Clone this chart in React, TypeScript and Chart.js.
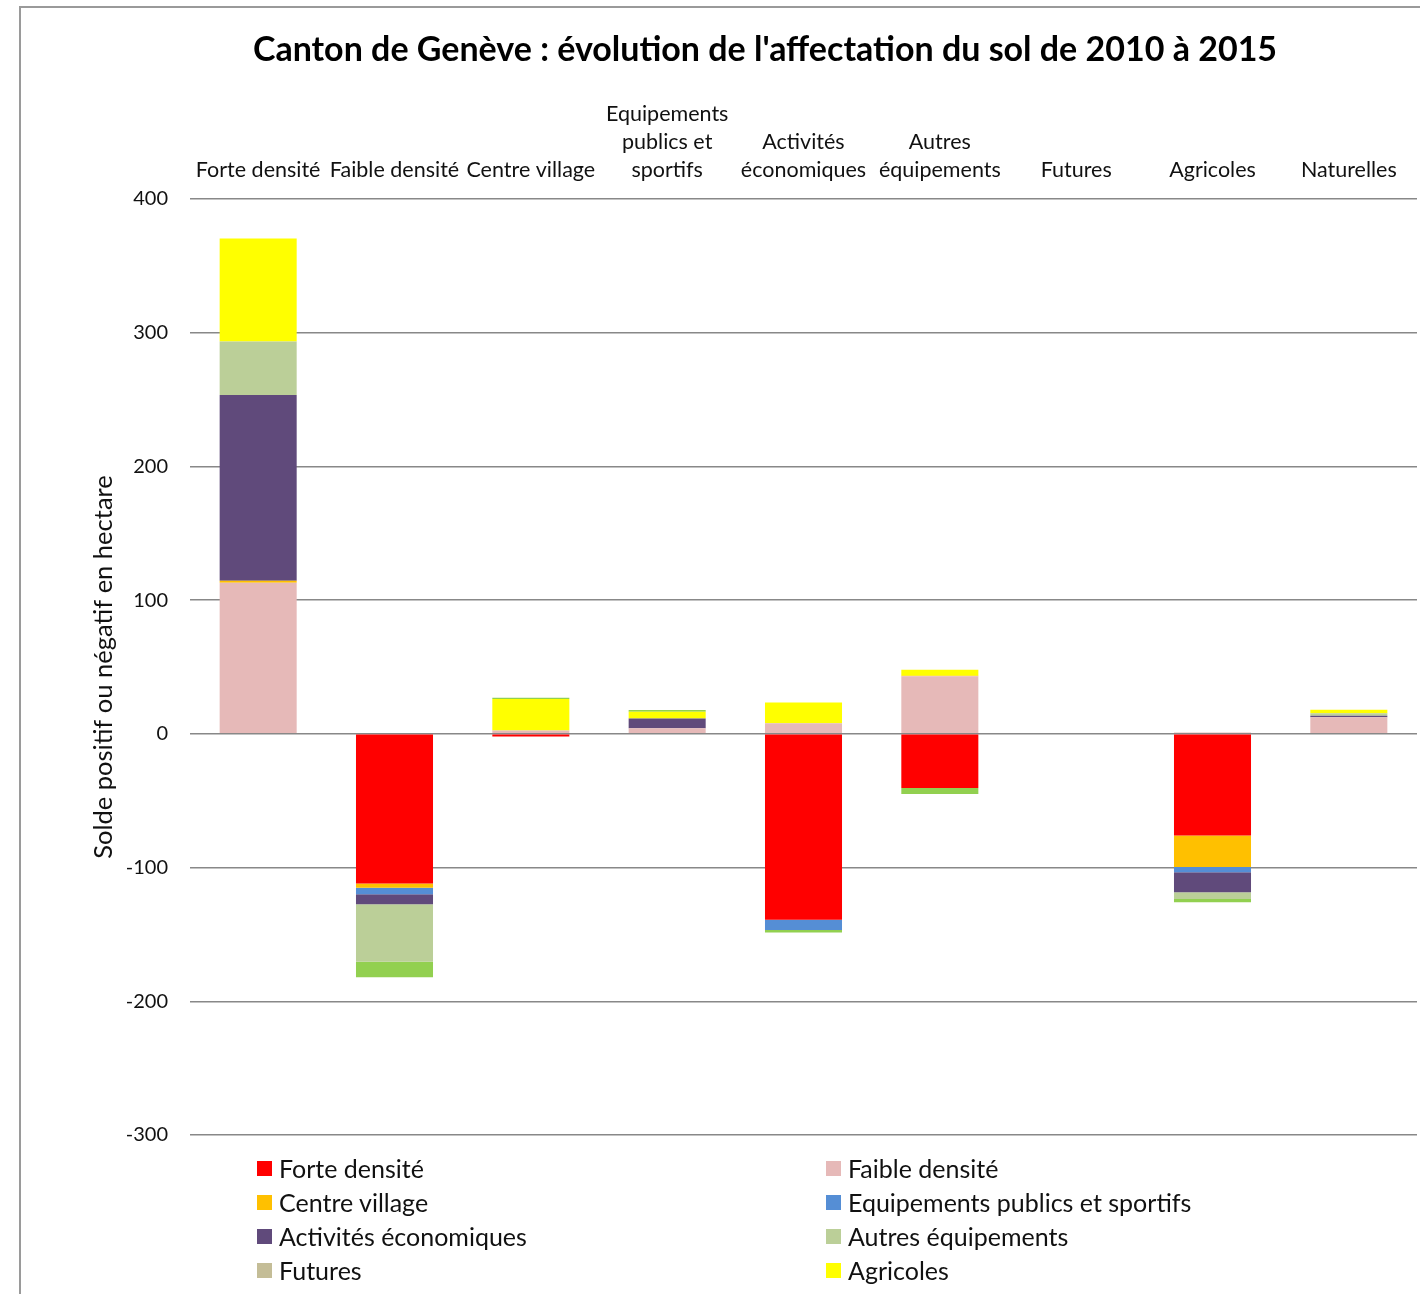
import React, { useEffect, useRef } from "react";
import { Chart, registerables } from "chart.js";
Chart.register(...registerables);

const TITLE = "Canton de Genève : évolution de l'affectation du sol de 2010 à 2015";
const Y_TITLE = "Solde positif ou négatif en hectare";

const categories: (string | string[])[] = [
  "Forte densité",
  "Faible densité",
  "Centre village",
  ["Equipements", "publics et", "sportifs"],
  ["Activités", "économiques"],
  ["Autres", "équipements"],
  "Futures",
  "Agricoles",
  "Naturelles",
];

const seriesNames = [
  "Forte densité",
  "Faible densité",
  "Centre village",
  "Equipements publics et sportifs",
  "Activités économiques",
  "Autres équipements",
  "Futures",
  "Agricoles",
  "Naturelles",
];

const seriesColors = [
  "#FF0000",
  "#E6B9B8",
  "#FFC000",
  "#558ED5",
  "#604A7B",
  "#BBCF98",
  "#C4BD97",
  "#FFFF00",
  "#92D050",
];

const forteDensite = [0, -112, -2, 0, -139, -40.5, 0, -76, 0];
const faibleDensite = [113, 0, 2.5, 4.2, 8, 43, 0, 1, 12.5];
const centreVillage = [1.5, -3, 0, 0, 0, 0.5, 0, -23.5, 0];
const equipements = [0, -5, 0, 0, -7.7, 0, 0, -4, 0];
const activites = [139, -7.5, 0, 7.2, 0, 0, 0, -15, 1];
const autresEquip = [40, -43, 0, 0, 0, 0, 0, -5, 2];
const futures = [0, 0, 0, 0, 0, 0, 0, 0, 0];
const agricoles = [77, 0, 23.5, 5.2, 15.4, 4.5, 0, 0, 2.5];
const naturelles = [0, -11.5, 1, 1.3, -1.8, -4.4, 0, -2.5, 0];

const seriesValues = [
  forteDensite,
  faibleDensite,
  centreVillage,
  equipements,
  activites,
  autresEquip,
  futures,
  agricoles,
  naturelles,
];

const legendCount = 8;

const FONT = "Lato, 'Open Sans', sans-serif";

export default function App() {
  const ref = useRef<HTMLCanvasElement>(null);

  useEffect(() => {
    const chart = new Chart(ref.current!, {
      type: "bar",
      data: {
        labels: categories,
        datasets: seriesNames.map((name, i) => ({
          label: name,
          data: seriesValues[i],
          backgroundColor: seriesColors[i],
          borderWidth: 0,
          categoryPercentage: 1,
          barPercentage: 0.565,
        })),
      },
      options: {
        responsive: false,
        animation: false,
        layout: { padding: { left: 0, right: 3, top: 80, bottom: 159 } },
        plugins: {
          legend: { display: false },
          title: { display: false },
          tooltip: { enabled: false },
        },
        scales: {
          x: {
            stacked: true,
            position: "top",
            grid: { display: false, drawTicks: false },
            border: { display: false },
            ticks: {
              color: "#111",
              font: { family: FONT, size: 21.5, lineHeight: 28 / 21.5 },
              padding: 15,
              maxRotation: 0,
              autoSkip: false,
            },
            afterFit: (s: any) => {
              s.height = 119;
            },
          },
          y: {
            stacked: true,
            min: -300,
            max: 400,
            ticks: {
              stepSize: 100,
              color: "#111",
              font: { family: FONT, size: 20 },
              padding: 22,
            },
            grid: { color: "#888888", lineWidth: 1.5, drawTicks: false },
            border: { display: false },
            title: {
              display: true,
              text: Y_TITLE,
              color: "#111",
              font: { family: FONT, size: 25.5 },
              padding: { top: 88, bottom: 0 },
            },
            afterFit: (s: any) => {
              s.width = 190;
            },
          },
        },
      },
    });
    return () => chart.destroy();
  }, []);

  const legendItems = seriesNames.slice(0, legendCount).map((n, i) => ({
    name: n,
    color: seriesColors[i],
  }));

  return (
    <div
      style={{
        position: "absolute",
        left: 0,
        top: 0,
        width: 1420,
        height: 1294,
        overflow: "hidden",
        background: "#fff",
        fontFamily: FONT,
      }}
    >
      <div
        style={{
          position: "absolute",
          left: 19,
          top: 6,
          width: 1420,
          height: 1300,
          borderLeft: "2px solid #9a9a9a",
          borderTop: "2px solid #9a9a9a",
        }}
      />
      <canvas
        ref={ref}
        width={1420}
        height={1294}
        style={{ position: "absolute", left: 0, top: 0, display: "block" }}
      />
      <div
        style={{
          position: "absolute",
          left: 765,
          top: 47,
          transform: "translate(-50%, -50%)",
          whiteSpace: "nowrap",
          fontWeight: 700,
          fontSize: 34,
          color: "#000",
        }}
      >
        {TITLE}
      </div>
      {legendItems.map((it, i) => {
        const col = i % 2;
        const row = Math.floor(i / 2);
        const x = col === 0 ? 257 : 826;
        const y = 1168 + row * 34;
        return (
          <div
            key={it.name}
            style={{
              position: "absolute",
              left: x,
              top: y - 16,
              height: 32,
              display: "flex",
              alignItems: "center",
              whiteSpace: "nowrap",
              fontSize: 25,
              color: "#111",
            }}
          >
            <span
              style={{
                display: "inline-block",
                width: 15,
                height: 15,
                background: it.color,
                marginRight: 7,
              }}
            />
            <span>{it.name}</span>
          </div>
        );
      })}
    </div>
  );
}
